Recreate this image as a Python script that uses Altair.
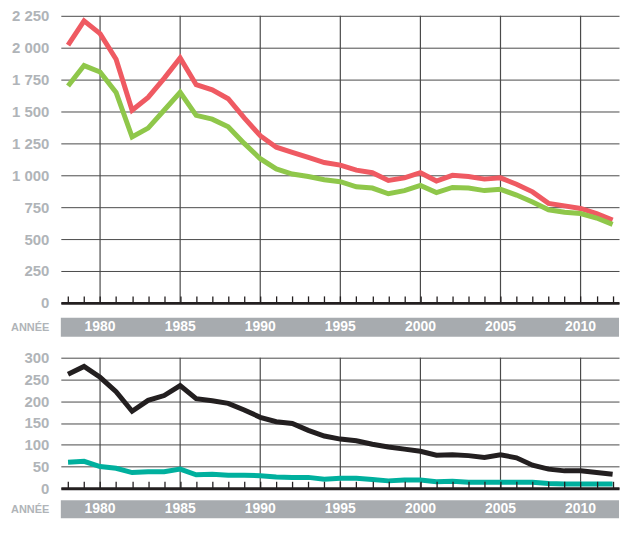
import altair as alt
import pandas as pd

YEARS = [1978, 1979, 1980, 1981, 1982, 1983, 1984, 1985, 1986, 1987, 1988, 1989,
         1990, 1991, 1992, 1993, 1994, 1995, 1996, 1997, 1998, 1999, 2000, 2001,
         2002, 2003, 2004, 2005, 2006, 2007, 2008, 2009, 2010, 2011, 2012]

RED = [2020, 2210, 2110, 1910, 1510, 1610, 1760, 1920, 1710, 1670, 1600, 1450,
       1310, 1220, 1180, 1140, 1100, 1080, 1040, 1020, 960, 980, 1020, 955,
       1000, 990, 970, 980, 930, 870, 780, 760, 740, 700, 650]
GREEN = [1700, 1860, 1810, 1650, 1300, 1370, 1510, 1650, 1470, 1440, 1380, 1250,
         1130, 1050, 1010, 990, 965, 950, 910, 900, 855, 880, 920, 865,
         905, 900, 880, 890, 845, 790, 730, 710, 700, 665, 615]
BLACK = [262, 280, 255, 222, 177, 202, 213, 236, 206, 201, 195, 180,
         163, 153, 149, 133, 120, 113, 109, 101, 95, 90, 85, 76,
         77, 75, 71, 77, 70, 53, 44, 40, 40, 36, 32]
TEAL = [60, 62, 50, 46, 36, 38, 38, 44, 31, 32, 30, 30,
        29, 26, 25, 25, 21, 23, 23, 20, 17, 19, 19, 15,
        16, 14, 14, 14, 14, 14, 11, 10, 10, 10, 10]

GRID_YEARS = [1980, 1985, 1990, 1995, 2000, 2005, 2010]
TOP_TICKS = [0, 250, 500, 750, 1000, 1250, 1500, 1750, 2000, 2250]
BOTTOM_TICKS = [0, 50, 100, 150, 200, 250, 300]
BAND_LABEL = "ANNÉE"

LABEL_GRAY = "#b0b4b8"
BAND_GRAY = "#a7abaf"
GRID = "#4a4a4a"
INK = "#231f20"
FONT = "Liberation Sans"
W = 560
XDOM = [1977.55, 2012.4]


def xenc(height):
    return alt.X("year:Q", scale=alt.Scale(domain=XDOM, nice=False, zero=False),
                 axis=alt.Axis(orient="top", offset=-height, values=YEARS, tickSize=7,
                               tickColor=INK, tickWidth=1.3, domainColor=INK,
                               domainWidth=3, labels=False, grid=False, title=None,
                               zindex=2))


def panel(names, series, colors, ymax, yticks, height):
    rows = []
    for n, vals in zip(names, series):
        for yr, v in zip(YEARS, vals):
            rows.append({"year": yr, "value": v, "series": n})
    df = pd.DataFrame(rows)
    yscale = alt.Scale(domain=[0, ymax], nice=False, zero=True)
    yaxis = alt.Axis(values=yticks, grid=True, gridColor=GRID, gridWidth=1,
                     ticks=False, domain=False, labelPadding=12,
                     labelOverlap=False, labelBound=False,
                     labelFont=FONT, labelFontWeight="bold", labelFontSize=15,
                     labelColor=LABEL_GRAY, title=None,
                     labelExpr="replace(format(datum.value, ',d'), ',', ' ')")
    vgrid = alt.Chart(pd.DataFrame({"year": GRID_YEARS})).mark_rule(
        color=GRID, strokeWidth=1.2).encode(
        x=xenc(height),
        y=alt.YDatum(ymax, type="quantitative", scale=yscale, axis=yaxis),
        y2=alt.datum(0))
    lines = alt.Chart(df).mark_line(strokeWidth=5, strokeJoin="miter").encode(
        x=xenc(height),
        y=alt.Y("value:Q", scale=yscale, axis=yaxis),
        color=alt.Color("series:N", scale=alt.Scale(domain=names, range=colors),
                        legend=None),
        order=alt.Order("year:Q"))
    return alt.layer(vgrid, lines).properties(width=W, height=height)


def band(h):
    df = pd.DataFrame({"year": GRID_YEARS, "label": [str(y) for y in GRID_YEARS],
                       "row": [BAND_LABEL] * len(GRID_YEARS)})
    return alt.Chart(df).mark_text(color="white", font=FONT, fontWeight="bold",
                                   fontSize=14).encode(
        x=alt.X("year:Q", scale=alt.Scale(domain=XDOM, nice=False, zero=False), axis=None),
        y=alt.Y("row:N", scale=alt.Scale(paddingInner=0, paddingOuter=0),
                axis=alt.Axis(title=None, ticks=False, domain=False, labelPadding=12,
                              labelFont=FONT, labelFontSize=11, labelFontWeight="bold",
                              labelColor=LABEL_GRAY)),
        text="label:N",
    ).properties(width=W, height=h, view=alt.ViewBackground(fill=BAND_GRAY, stroke=None))


top = panel(["total", "sub"], [RED, GREEN], ["#ef5a62", "#8fc74a"], 2250, TOP_TICKS, 288)
bottom = panel(["black", "teal"], [BLACK, TEAL], [INK, "#00b09e"], 300, BOTTOM_TICKS, 131)

upper = alt.vconcat(top, band(19), spacing=15, bounds="flush").resolve_scale(
    y="independent", color="independent")
lower = alt.vconcat(bottom, band(18), spacing=12, bounds="flush").resolve_scale(
    y="independent", color="independent")

chart = alt.vconcat(upper, lower, spacing=14, bounds="full").resolve_scale(
    y="independent", color="independent").properties(
    padding={"left": 2, "top": 0, "right": 0, "bottom": 0}
).configure_view(stroke=None)

chart.save("out.html", embed_options={"renderer": "svg", "actions": False})
